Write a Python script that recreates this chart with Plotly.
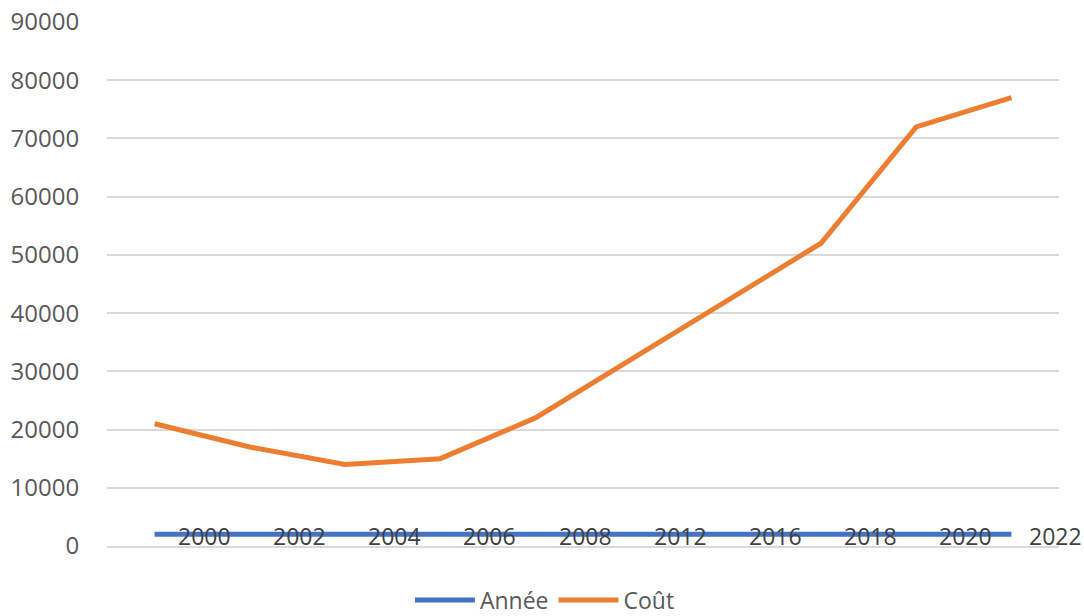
import plotly.graph_objects as go

categories = ["2000", "2002", "2004", "2006", "2008", "2012", "2016", "2018", "2020", "2022"]
annee = [2000, 2002, 2004, 2006, 2008, 2012, 2016, 2018, 2020, 2022]
cout = [21000, 17000, 14000, 15000, 22000, 32000, 42000, 52000, 72000, 77000]
y_ticks = [0, 10000, 20000, 30000, 40000, 50000, 60000, 70000, 80000, 90000]

idx = list(range(len(categories)))
label_pos = [i + 0.5 for i in idx]

fig = go.Figure()
fig.add_trace(go.Scatter(x=idx, y=annee, mode="lines", name="Année",
                         line=dict(color="#4472C4", width=5)))
fig.add_trace(go.Scatter(x=idx, y=cout, mode="lines", name="Coût",
                         line=dict(color="#ED7D31", width=5)))

font_family = "Open Sans, Noto Sans, sans-serif"

# Category labels drawn over the plot, as in the reference
n = len(categories)
for k, (pos, lab) in enumerate(zip(label_pos, categories)):
    fig.add_annotation(x=pos, y=0, xref="x", yref="y", text=lab, showarrow=False,
                       xanchor="center", yanchor="middle", yshift=10,
                       xshift=(2 if k < n - 1 else -4), borderpad=0,
                       font=dict(family=font_family, size=23, color="#404040"))

fig.update_layout(
    width=1084, height=616,
    margin=dict(l=107, r=25, t=22, b=70, autoexpand=False),
    plot_bgcolor="white", paper_bgcolor="white",
    font=dict(family=font_family, size=24, color="#595959"),
    showlegend=True,
    legend=dict(orientation="h", x=0.46, xanchor="center", y=-0.103, yanchor="middle",
                font=dict(size=23, color="#595959"), itemwidth=60, traceorder="normal"),
    xaxis=dict(range=[-0.5, 9.5], showticklabels=False, ticks="",
               showgrid=False, zeroline=False, showline=True, linecolor="#d9d9d9", linewidth=2),
    yaxis=dict(range=[0, 90000], tickmode="array", tickvals=y_ticks,
               ticktext=[str(v) for v in y_ticks],
               showgrid=True, gridcolor="#d9d9d9", gridwidth=2, zeroline=False, showline=False,
               ticks="outside", tickcolor="rgba(0,0,0,0)", ticklen=22,
               tickfont=dict(size=24, color="#595959")),
)

fig.write_html("out.html")
